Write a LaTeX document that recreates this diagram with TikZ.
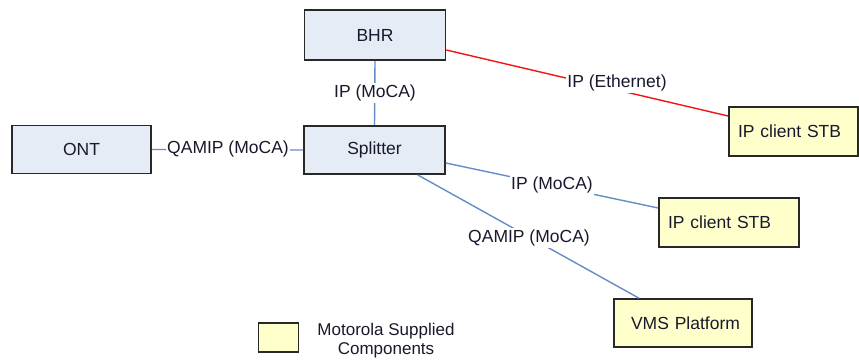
\documentclass[tikz,border=0pt]{standalone}
\usepackage{fontspec}
\setmainfont{Liberation Sans}
\definecolor{boxblue}{RGB}{230,236,246}
\definecolor{boxyellow}{RGB}{255,255,204}
\definecolor{linkblue}{RGB}{100,140,200}
\definecolor{linkred}{RGB}{240,20,20}
\definecolor{edgegray}{RGB}{40,40,40}
\definecolor{txt}{RGB}{25,25,45}
\begin{document}
\begin{tikzpicture}[x=1pt,y=-1pt,
  every node/.style={font=\fontsize{17.5}{21}\selectfont, text=txt},
  bbox/.style={draw=edgegray, line width=1.6pt, fill=boxblue, inner sep=0pt},
  ybox/.style={draw=edgegray, line width=1.6pt, fill=boxyellow, inner sep=0pt},
  link/.style={draw=linkblue, line width=1.4pt},
  redlink/.style={draw=linkred, line width=1.4pt},
  lab/.style={fill=white, inner xsep=1pt, inner ysep=2pt}]
\useasboundingbox (0,0) rectangle (859,360);
\node[bbox, minimum width=141pt, minimum height=50pt] (bhr) at (375,35) {BHR};
\node[bbox, minimum width=139pt, minimum height=48pt] (ont) at (81.5,149.5) {ONT};
\node[bbox, minimum width=141pt, minimum height=48pt] (spl) at (374.5,150) {Splitter};
\node[ybox, minimum width=129pt, minimum height=49pt, text width=111pt, align=left, inner xsep=9pt] (stba) at (793.5,131.5) {IP client STB};
\node[ybox, minimum width=140pt, minimum height=49pt, text width=122pt, align=left, inner xsep=9pt] (stbb) at (729,222.5) {IP client STB};
\node[ybox, minimum width=138pt, minimum height=48pt, text width=104pt, align=left, inner xsep=17pt] (vms) at (683,323) {\mbox{VMS Platform}};
\node[ybox, minimum width=40pt, minimum height=29pt] (leg) at (278.5,337.5) {};
\node[align=center, font=\fontsize{17}{19}\selectfont, inner sep=0pt] (legtext) at (386,341) {Motorola Supplied\\Components};
% connectors
\draw[link] (bhr.south) -- (spl.north);
\draw[link] (ont.east) -- (spl.west);
\draw[redlink] ([yshift=-15pt]bhr.east) -- ([yshift=15.5pt]stba.west);
\draw[link] ([yshift=-13pt]spl.east) -- ([yshift=14.5pt]stbb.west);
\draw[link] ([xshift=43pt]spl.south) -- ([xshift=-44pt]vms.north);
% labels
\node[lab] (l1) at (375,93) {IP (MoCA)};
\node[lab] (l2) at (228,149) {QAMIP (MoCA)};
\node[lab] (l3) at (617,83) {IP (Ethernet)};
\node[lab] (l4) at (552,185) {IP (MoCA)};
\node[lab] (l5) at (529,238) {QAMIP (MoCA)};
\end{tikzpicture}
\end{document}
